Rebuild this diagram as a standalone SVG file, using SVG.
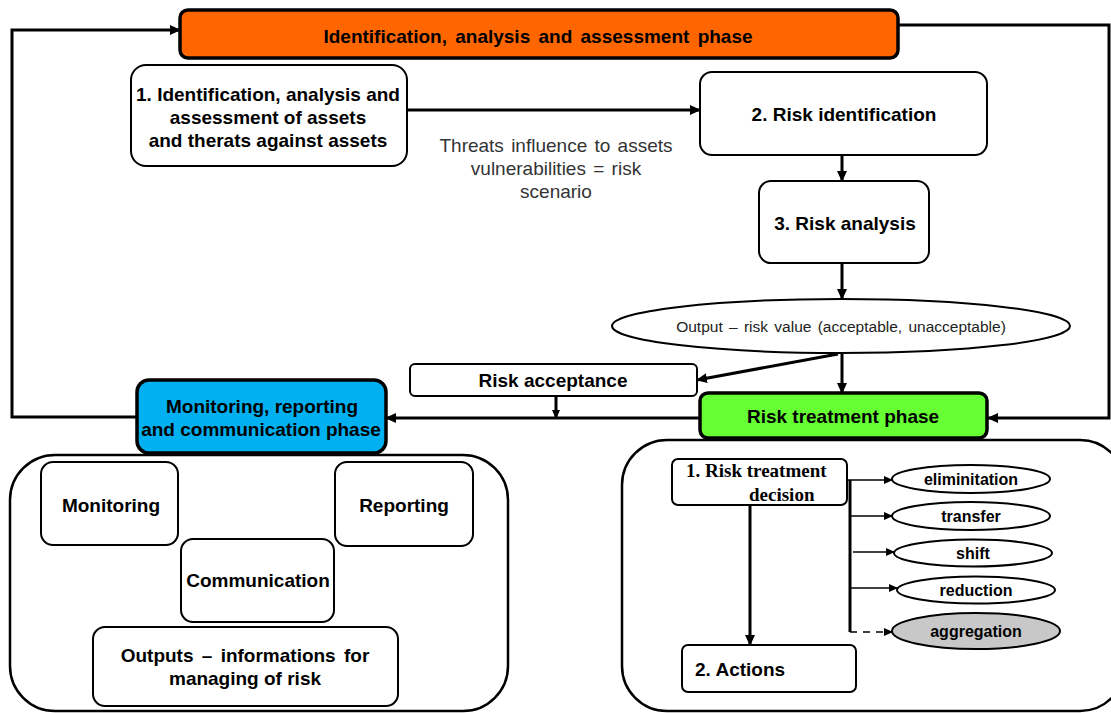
<svg xmlns="http://www.w3.org/2000/svg" width="1111" height="713" viewBox="0 0 1111 713">
<defs>
<style>
.box{fill:#fff;stroke:#000;stroke-width:2}
.phase{stroke:#000;stroke-width:3.5}
.b{font-family:"Liberation Sans",Arial,sans-serif;font-weight:bold;font-size:19px;fill:#000;text-anchor:middle}
.r{font-family:"Liberation Sans",Arial,sans-serif;font-size:19px;fill:#333;text-anchor:middle;word-spacing:2px}
.s{font-family:"Liberation Serif","Times New Roman",serif;font-weight:bold;font-size:19px;fill:#000}
.e{font-family:"Liberation Sans",Arial,sans-serif;font-weight:bold;font-size:16px;fill:#000;text-anchor:middle}
.conn{fill:none;stroke:#000;stroke-width:3}
.thin{fill:none;stroke:#000;stroke-width:1.4}
</style>
<marker id="ah" markerUnits="userSpaceOnUse" markerWidth="11" markerHeight="10" refX="10" refY="5" orient="auto">
<path d="M0,0 L11,5 L0,10 z" fill="#000"/>
</marker>
<marker id="as" markerUnits="userSpaceOnUse" markerWidth="9" markerHeight="8" refX="8" refY="4" orient="auto">
<path d="M0,0 L9,4 L0,8 z" fill="#000"/>
</marker>
</defs>
<rect width="1111" height="713" fill="#fff"/>

<g id="connectors">
<polyline class="conn" points="137,417 12,417 12,30 180,30" marker-end="url(#ah)"/>
<polyline class="conn" stroke-width="2.5" points="898,25 1109,25 1109,418 988,418" marker-end="url(#ah)"/>
<line class="conn" x1="407" y1="110" x2="700" y2="110" marker-end="url(#ah)"/>
<line class="conn" x1="842" y1="155" x2="842" y2="181" marker-end="url(#ah)"/>
<line class="conn" x1="842" y1="263" x2="842" y2="299" marker-end="url(#ah)"/>
<line class="conn" x1="838" y1="354" x2="697" y2="380" marker-end="url(#ah)"/>
<line class="conn" x1="842" y1="354" x2="842" y2="393" marker-end="url(#ah)"/>
<line class="conn" x1="556" y1="396" x2="556" y2="418" stroke-width="2" marker-end="url(#as)"/>
<line class="conn" x1="700" y1="418" x2="386" y2="418" marker-end="url(#ah)"/>
<line class="conn" x1="750" y1="505" x2="750" y2="645" marker-end="url(#ah)"/>
<line class="conn" stroke-width="2" x1="850" y1="480" x2="850" y2="632"/>
<line class="thin" x1="847" y1="480" x2="892" y2="480" marker-end="url(#as)"/>
<line class="thin" x1="850" y1="516" x2="892" y2="516" marker-end="url(#as)"/>
<line class="thin" x1="853" y1="552" x2="894" y2="552" marker-end="url(#as)"/>
<line class="thin" x1="850" y1="588" x2="897" y2="588" marker-end="url(#as)"/>
<line class="thin" stroke-width="2" stroke-dasharray="7,6" x1="850" y1="632" x2="892" y2="632" marker-end="url(#as)"/>
</g>

<g id="phase-identification">
<rect class="phase" x="180" y="10" width="718" height="48" rx="8" fill="#FF6600"/>
<text class="b" x="538" y="43" style="word-spacing:3px">Identification, analysis and assessment phase</text>
</g>

<g id="node-assets">
<rect class="box" x="131" y="65" width="276" height="101" rx="15"/>
<text class="b" x="268" y="101">1. Identification, analysis and</text>
<text class="b" x="268" y="124">assessment of assets</text>
<text class="b" x="268" y="147">and therats against assets</text>
</g>

<g id="caption-threats">
<text class="r" x="556" y="152">Threats influence to assets</text>
<text class="r" x="556" y="175">vulnerabilities = risk</text>
<text class="r" x="556" y="198">scenario</text>
</g>

<g id="node-risk-identification">
<rect class="box" x="700" y="72" width="287" height="83" rx="12"/>
<text class="b" x="844" y="121">2. Risk identification</text>
</g>

<g id="node-risk-analysis">
<rect class="box" x="759" y="181" width="170" height="82" rx="12"/>
<text class="b" x="845" y="230">3. Risk analysis</text>
</g>

<g id="node-output">
<ellipse cx="841" cy="326" rx="229" ry="27" fill="#fff" stroke="#000" stroke-width="2"/>
<text x="841" y="332" font-family="'Liberation Sans',Arial,sans-serif" font-size="15.5" fill="#222" text-anchor="middle" word-spacing="2">Output – risk value (acceptable, unacceptable)</text>
</g>

<g id="node-risk-acceptance">
<rect class="box" x="410" y="364" width="287" height="32" rx="5"/>
<text class="b" x="553" y="387">Risk acceptance</text>
</g>

<g id="phase-treatment">
<rect class="phase" x="700" y="393" width="287" height="45" rx="8" fill="#66FF33"/>
<text class="b" x="843" y="423">Risk treatment phase</text>
</g>

<g id="phase-monitoring">
<rect class="phase" x="137" y="380" width="249" height="73" rx="12" fill="#00B0F0"/>
<text class="b" x="262" y="413">Monitoring, reporting</text>
<text class="b" x="261" y="436">and communication phase</text>
</g>

<g id="container-left">
<rect x="10" y="455" width="498" height="256" rx="45" fill="none" stroke="#000" stroke-width="2.5"/>
</g>

<g id="node-monitoring">
<rect class="box" x="41" y="462" width="137" height="83" rx="12"/>
<text class="b" x="111" y="512">Monitoring</text>
</g>

<g id="node-reporting">
<rect class="box" x="335" y="462" width="138" height="84" rx="12"/>
<text class="b" x="404" y="512">Reporting</text>
</g>

<g id="node-communication">
<rect class="box" x="181" y="539" width="153" height="83" rx="12"/>
<text class="b" x="258" y="587">Communication</text>
</g>

<g id="node-outputs">
<rect class="box" x="93" y="627" width="305" height="79" rx="12"/>
<text class="b" x="245" y="662" style="word-spacing:3px">Outputs – informations for</text>
<text class="b" x="245" y="685">managing of risk</text>
</g>

<g id="container-right">
<rect x="622" y="440" width="503" height="271" rx="45" fill="none" stroke="#000" stroke-width="2.5"/>
</g>

<g id="node-decision">
<rect class="box" x="672" y="459" width="175" height="46" rx="6"/>
<text class="s" x="686" y="477">1. Risk treatment</text>
<text class="s" x="749" y="501">decision</text>
</g>

<g id="node-actions">
<rect class="box" x="682" y="645" width="174" height="47" rx="6"/>
<text class="b" x="695" y="676" style="text-anchor:start">2. Actions</text>
</g>

<g id="node-elimination">
<ellipse cx="971" cy="479" rx="79" ry="14" fill="#fff" stroke="#000" stroke-width="2"/>
<text class="e" x="971" y="485">eliminitation</text>
</g>
<g id="node-transfer">
<ellipse cx="971" cy="516" rx="79" ry="14" fill="#fff" stroke="#000" stroke-width="2"/>
<text class="e" x="971" y="522">transfer</text>
</g>
<g id="node-shift">
<ellipse cx="973" cy="553" rx="79" ry="13.5" fill="#fff" stroke="#000" stroke-width="2"/>
<text class="e" x="973" y="559">shift</text>
</g>
<g id="node-reduction">
<ellipse cx="976" cy="590" rx="79" ry="13.5" fill="#fff" stroke="#000" stroke-width="2"/>
<text class="e" x="976" y="596">reduction</text>
</g>
<g id="node-aggregation">
<ellipse cx="976" cy="631" rx="84" ry="18" fill="#C8C8C8" stroke="#000" stroke-width="2"/>
<text class="e" x="976" y="637">aggregation</text>
</g>
</svg>
